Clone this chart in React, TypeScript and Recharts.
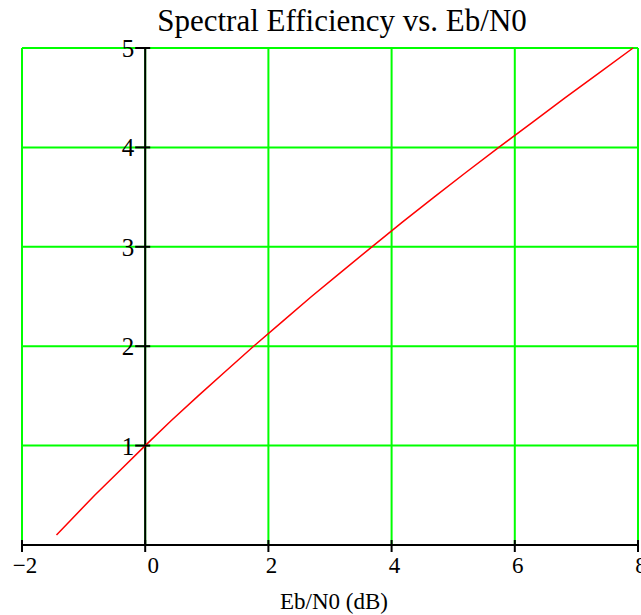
import { LineChart, Line, XAxis, YAxis, CartesianGrid, ReferenceLine } from 'recharts';

// Eb/N0 (dB) vs spectral efficiency
const ebN0 = [-1.44, -1.21, -0.82, -0.41, 0, 0.42, 0.86, 1.31, 1.76, 2.23, 2.7, 3.19, 3.68, 4.18, 4.69, 5.21, 5.74, 6.28, 6.82, 7.37, 7.92];
const efficiency = [0.1, 0.25, 0.5, 0.75, 1.0, 1.25, 1.5, 1.75, 2.0, 2.25, 2.5, 2.75, 3.0, 3.25, 3.5, 3.75, 4.0, 4.25, 4.5, 4.75, 5.0];
const xTicks = [-2, 0, 2, 4, 6, 8];
const yTicks = [0, 1, 2, 3, 4, 5];

const data = ebN0.map((x, i) => ({ x, y: efficiency[i] }));

const W = 641;
const H = 615;
const margin = { top: 48, right: 3, bottom: 69, left: 21 };
const font = "'Liberation Serif', 'Times New Roman', serif";

// pixel position of the x = 0 axis
const plotLeft = margin.left + 1;
const ZERO_X = plotLeft + ((W - plotLeft - margin.right) * (0 - xTicks[0])) / (xTicks[xTicks.length - 1] - xTicks[0]);

const XTick = (props: any) => {
  const { x, y, payload } = props;
  const v = payload.value;
  const dx = v === 0 ? 8 : 3;
  return (
    <g>
      <line x1={x} x2={x} y1={y - 5} y2={y + 7} stroke='#000' strokeWidth={2} />
      <text x={x + dx} y={y + 28} textAnchor='middle' fontFamily={font} fontSize={23} fill='#000'>
        {v < 0 ? '\u2212' + Math.abs(v) : v}
      </text>
    </g>
  );
};

const YTick = (props: any) => {
  const { y, payload } = props;
  const v = payload.value;
  return (
    <g>
      <line x1={ZERO_X - 10} x2={ZERO_X + 5} y1={y} y2={y} stroke='#000' strokeWidth={2} />
      {v !== 0 && (
        <text x={ZERO_X - 11} y={y + 9} textAnchor='end' fontFamily={font} fontSize={25} fill='#000'>
          {v}
        </text>
      )}
    </g>
  );
};

const App = () => {
  return (
    <div style={{ position: 'absolute', left: 0, top: 0, width: W, height: H, background: '#fff' }}>
      <div
        style={{
          position: 'absolute',
          left: 0,
          width: 684,
          top: 3,
          textAlign: 'center',
          fontFamily: font,
          fontSize: 31,
          color: '#000',
          whiteSpace: 'nowrap',
        }}
      >
        Spectral Efficiency vs. Eb/N0
      </div>
      <LineChart width={W} height={H} data={data} margin={margin}>
        <CartesianGrid stroke='#00ff00' strokeWidth={2} />
        <XAxis
          type='number'
          dataKey='x'
          domain={[-2, 8]}
          ticks={xTicks}
          interval={0}
          height={1}
          allowDataOverflow
          axisLine={{ stroke: '#000', strokeWidth: 2 }}
          tickLine={false}
          tickSize={0}
          tickMargin={0}
          tick={<XTick />}
        />
        <YAxis
          type='number'
          domain={[0, 5]}
          ticks={yTicks}
          interval={0}
          width={1}
          axisLine={false}
          tickLine={false}
          tickSize={0}
          tickMargin={0}
          tick={<YTick />}
        />
        <ReferenceLine x={0} stroke='#000' strokeWidth={2} />
        <Line
          type='linear'
          dataKey='y'
          stroke='#ff0000'
          strokeWidth={1.5}
          dot={false}
          isAnimationActive={false}
        />
      </LineChart>
      <div
        style={{
          position: 'absolute',
          left: 0,
          width: 668,
          top: 589,
          textAlign: 'center',
          fontFamily: font,
          fontSize: 23,
          color: '#000',
          whiteSpace: 'nowrap',
        }}
      >
        Eb/N0 (dB)
      </div>
    </div>
  );
};

export default App;
